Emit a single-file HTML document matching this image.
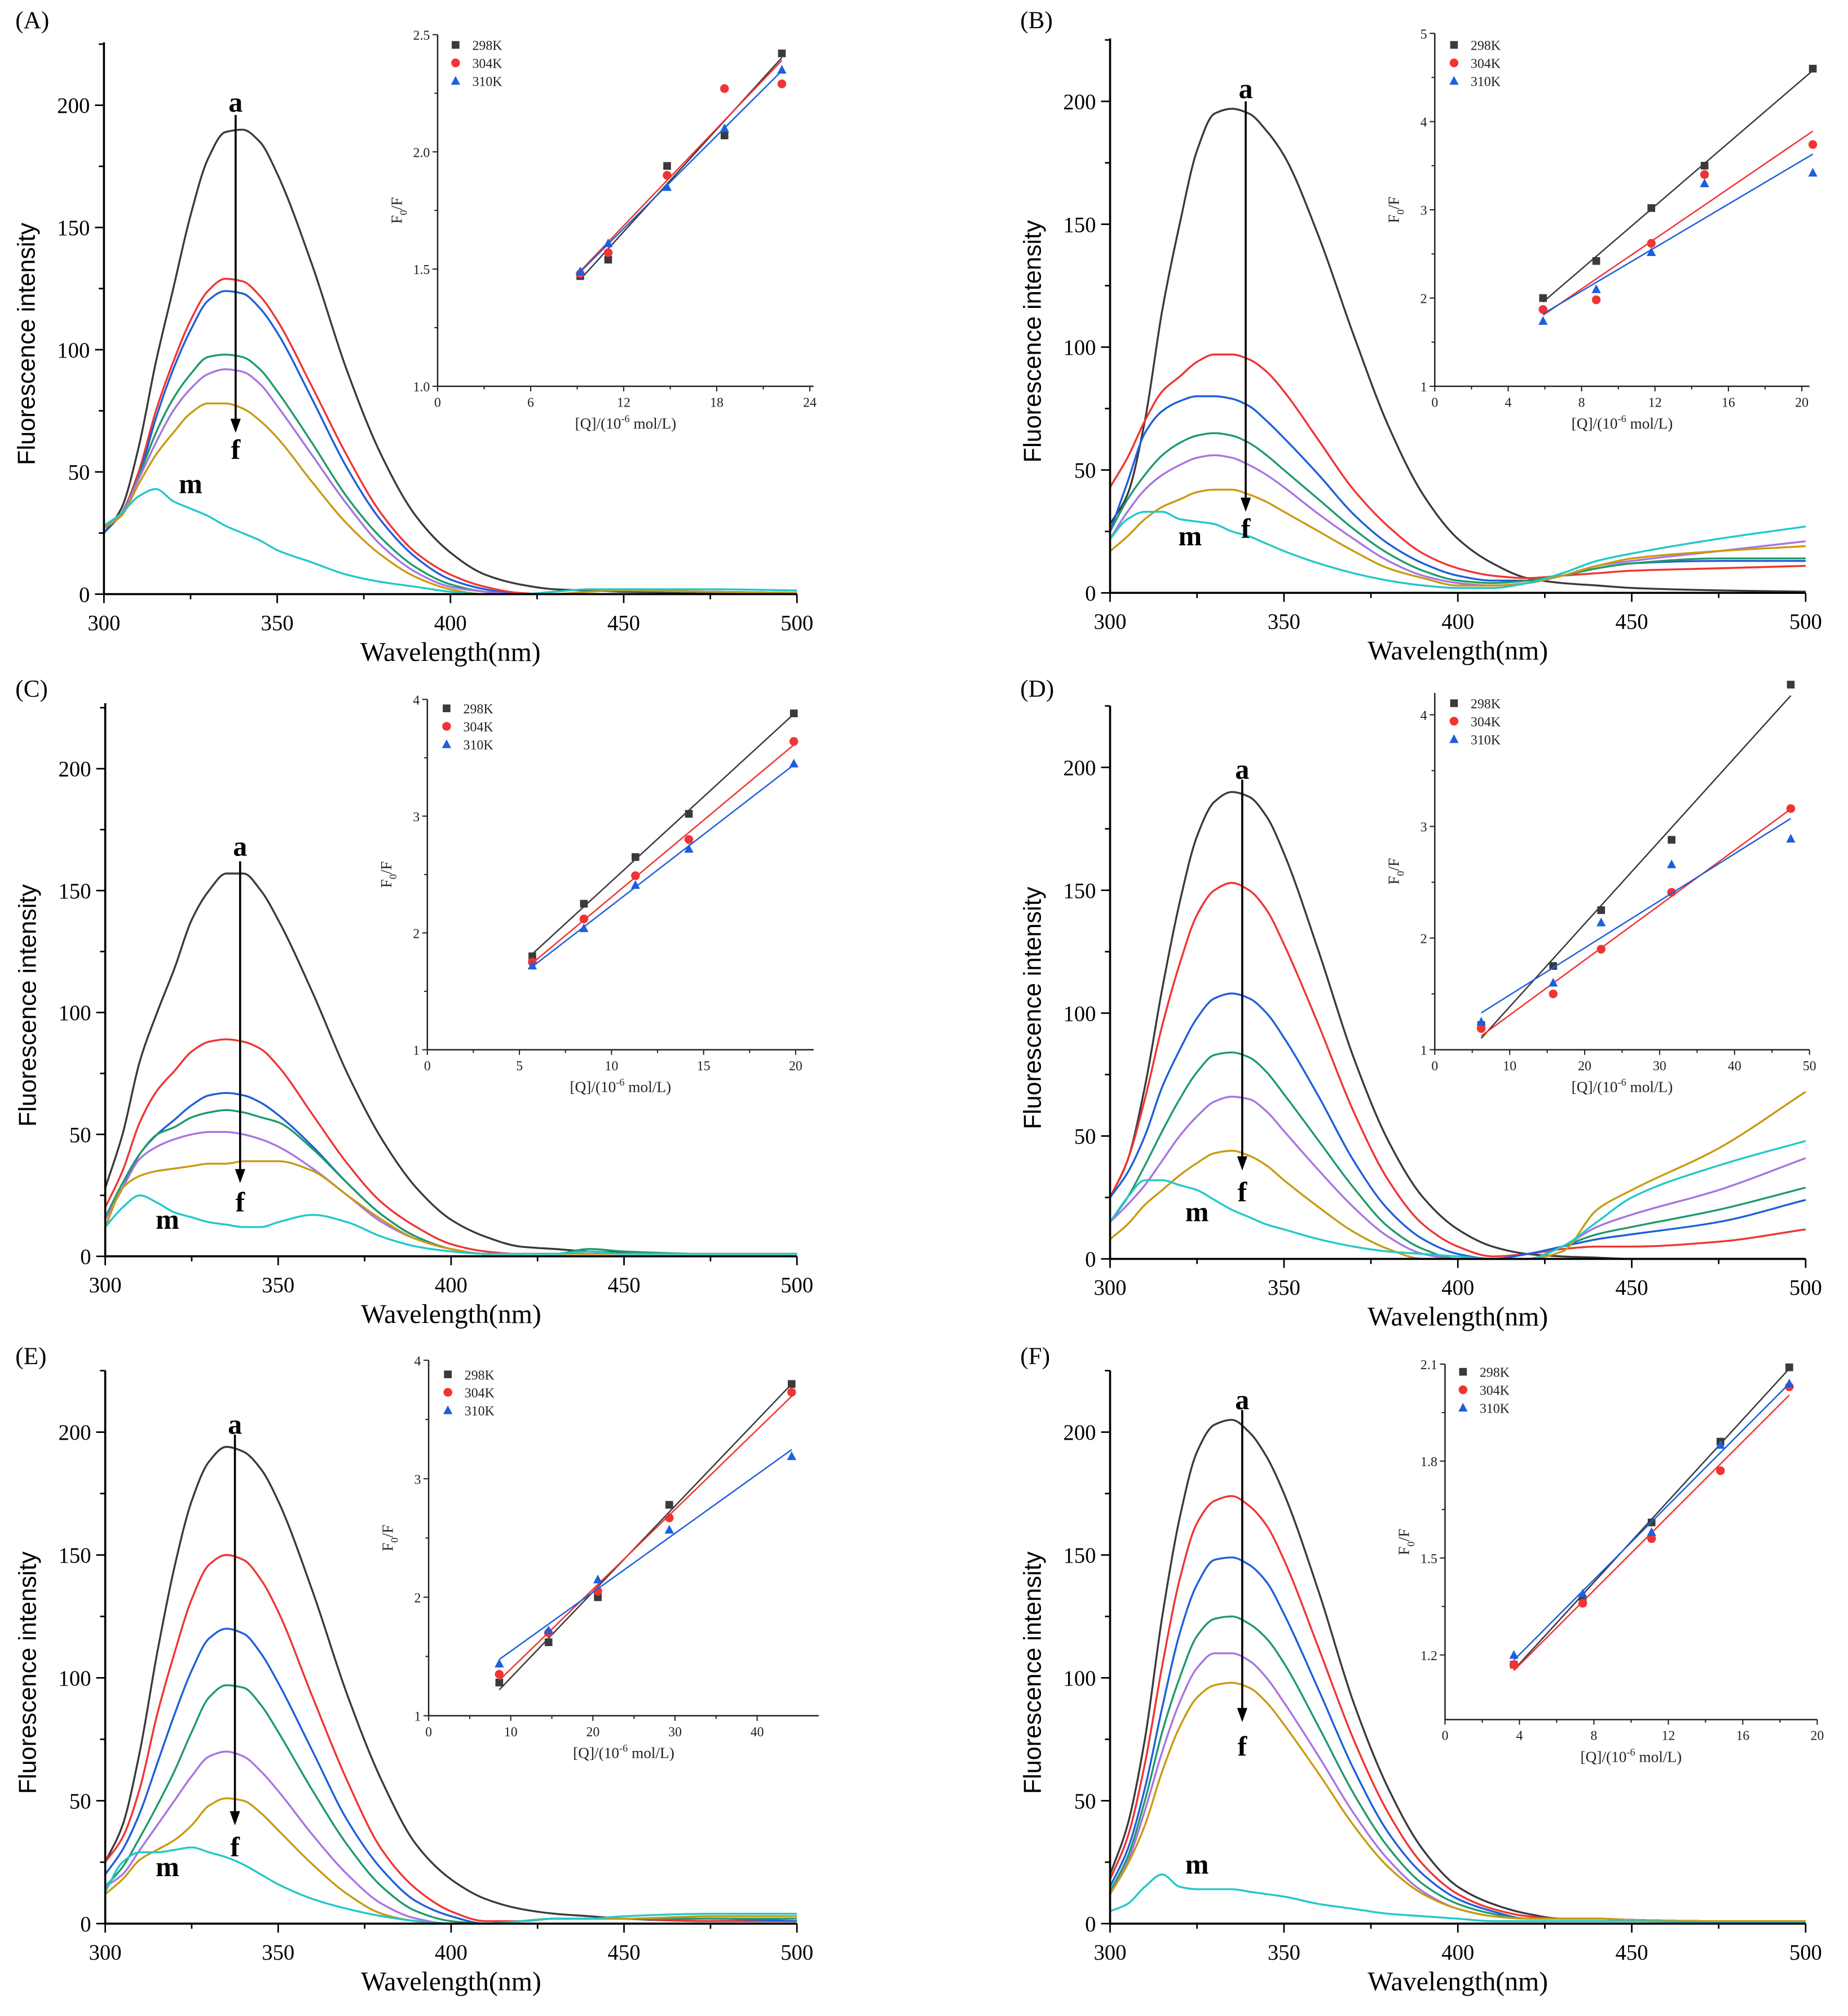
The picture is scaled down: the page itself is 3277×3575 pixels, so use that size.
<!DOCTYPE html>
<html><head><meta charset="utf-8"><style>
html,body{margin:0;padding:0;background:#fff}
svg{display:block}
</style></head><body>
<svg id="fig" width="3277" height="3575" viewBox="0 0 1440 1571" preserveAspectRatio="none" xmlns="http://www.w3.org/2000/svg"></svg>
<script>
// ---- data ----
const wl = [300,305,310,315,320,325,330,335,340,345,350,360,370,380,390,400,410,420,430,440,450,475,500];
const A_curves = [
[25,35,60,95,125,155,178,189,190,185,172,135,92,57,32,17,8,4,2,1.5,1,0.5,0],
[25,33,50,75,95,112,124,129,128,122,112,85,57,33,17,8,3,0.5,0,1,1.5,1,0.5],
[25,33,48,72,92,108,120,124,123,117,107,80,52,30,15,6,2,0,0,1,1.5,1,0.5],
[27,33,48,66,80,90,97,98,97,92,83,62,40,23,11,4,1,0,0,1,1.5,1,0.5],
[27,33,47,62,75,84,90,92,91,86,77,57,37,20,9,3,1,0,0,1,1.5,1,0.5],
[27,32,45,57,66,74,78,78,76,71,64,46,29,16,7,2,0,0,0,1,1.5,1,0.5],
[28,33,40,43,38,35,32,28,25,22,18,13,8,5,3,1,0,0,1,2,2,2,1.5]];
const B_curves = [
[28,40,70,115,150,180,195,197,195,188,178,145,105,68,40,22,12,6,4,3,2,1,0.5],
[43,55,70,82,88,94,97,97,95,90,82,62,42,27,16,10,7,6,7,8,9,10,11],
[25,45,65,74,78,80,80,79,76,70,63,48,32,20,12,7,5,5,7,10,12,13,13],
[25,38,48,56,61,64,65,64,61,56,50,38,26,16,9,5,4,5,7,10,12,14,14],
[22,33,42,48,52,55,56,55,52,48,43,32,22,13,7,4,3,4,7,11,13,17,21],
[17,23,30,35,38,41,42,42,40,37,33,25,17,10,6,3,3,4,7,11,14,17,19],
[22,30,33,33,30,29,28,25,23,20,17,12,8,5,3,2,2,4,8,13,16,22,27]];
const C_curves = [
[28,50,80,100,118,138,150,157,157,150,138,108,75,48,28,15,8,4,3,2,1.5,1,1],
[20,35,55,68,76,84,88,89,88,85,78,58,38,22,12,5,2,1,1,1,1,1,1],
[15,28,42,50,56,62,66,67,66,63,58,45,30,17,8,3,1,1,1,1,1,1,1],
[16,30,42,50,53,57,59,60,59,57,55,44,30,17,8,3,1,1,1,3,2,1,1],
[15,28,40,45,48,50,51,51,50,48,45,36,25,14,7,3,1,1,1,1,1,1,1],
[12,28,33,35,36,37,38,38,39,39,39,35,25,15,7,3,1,1,1,1,1,1,1],
[12,20,25,22,18,16,14,13,12,12,14,17,14,8,4,2,1,1,1,2,1,1,1]];
const D_curves = [
[25,40,70,110,145,172,186,190,188,180,165,125,82,48,25,12,5,2,1,0.5,0,0,0],
[25,40,65,95,120,140,150,153,150,142,128,95,60,32,14,5,1,2,4,5,5,7,12],
[25,35,50,70,85,98,106,108,106,100,90,66,40,20,8,2,0,2,5,8,10,15,24],
[15,25,38,52,65,76,83,84,82,76,67,48,29,13,4,0,0,0,5,10,13,20,29],
[15,22,30,40,50,58,64,66,65,60,52,36,21,9,2,0,0,0,5,13,18,28,41],
[8,14,22,28,34,39,43,44,42,38,32,21,11,4,0,0,0,0,3,20,28,45,68],
[15,25,32,32,30,28,24,20,17,14,12,8,5,3,2,1,0,0,5,15,25,38,48]];
const E_curves = [
[25,40,70,110,145,172,188,194,192,185,172,135,93,58,32,18,10,6,4,3,2,1,1],
[25,35,55,85,110,132,146,150,148,140,127,92,58,30,14,5,1,1,2,2,2,1,1],
[20,30,45,65,85,103,116,120,118,110,98,70,42,22,9,3,0,1,2,2,2,2,1],
[15,23,35,48,62,78,92,97,96,89,78,54,32,15,5,1,0,1,2,2,2,2,2],
[15,20,30,40,50,60,68,70,68,62,54,36,20,8,2,0,0,1,2,2,2,3,3],
[12,18,26,30,34,40,48,51,50,45,38,24,12,4,1,0,0,1,2,2,2,3,3],
[13,25,29,29,30,31,29,27,24,20,16,10,6,3,1,0,0,1,2,2,3,4,4]];
const F_curves = [
[20,40,75,125,165,192,203,205,200,190,175,135,90,55,30,15,8,4,2,2,1.5,1,1],
[18,35,65,105,140,163,172,174,170,162,148,112,75,45,24,12,6,3,2,2,1.5,1,1],
[15,30,55,88,118,138,148,149,146,139,126,95,63,37,20,10,5,2,2,2,1.5,1,1],
[13,27,50,78,100,117,124,125,122,116,106,80,53,31,16,8,4,2,2,2,1.5,1,1],
[12,25,46,70,90,104,110,110,107,100,90,68,45,26,13,6,3,2,2,2,1.5,1,1],
[12,24,40,62,80,92,97,98,96,90,81,61,40,23,12,6,3,2,2,2,1.5,1,1],
[5,8,15,20,15,14,14,14,13,12,11,8,6,4,3,2,1,1,1,1,1,0.5,0.5]];
const xTickLabels = [300,350,400,450,500];
const yTickLabels = [0,50,100,150,200];
// inset data
const A_q=[9.2,11.0,14.8,18.5,22.2], A_298=[1.47,1.54,1.94,2.07,2.42], A_304=[1.48,1.57,1.90,2.27,2.29], A_310=[1.49,1.61,1.85,2.10,2.35];
const B_q=[5.9,8.8,11.8,14.7,20.6], B_298=[2.0,2.42,3.02,3.5,4.6], B_304=[1.87,1.98,2.62,3.4,3.74], B_310=[1.74,2.1,2.52,3.3,3.42];
const C_q=[5.7,8.5,11.3,14.2,19.9], C_298=[1.8,2.25,2.65,3.02,3.88], C_304=[1.75,2.12,2.49,2.8,3.64], C_310=[1.72,2.04,2.41,2.72,3.45];
const D_q=[6.2,15.8,22.2,31.6,47.5], D_298=[1.22,1.75,2.25,2.88,4.27], D_304=[1.19,1.5,1.9,2.41,3.16], D_310=[1.25,1.6,2.14,2.66,2.89];
const E_q=[8.6,14.6,20.6,29.3,44.2], E_298=[1.28,1.62,2.0,2.78,3.8], E_304=[1.35,1.7,2.05,2.67,3.73], E_310=[1.44,1.72,2.15,2.57,3.19];
const F_q=[3.7,7.4,11.1,14.8,18.5], F_298=[1.17,1.37,1.61,1.86,2.09], F_304=[1.17,1.36,1.56,1.77,2.03], F_310=[1.20,1.39,1.58,1.85,2.04];
const A_xt=[0,6,12,18,24], A_yt=[1.0,1.5,2.0,2.5];
const B_xt=[0,4,8,12,16,20], B_yt=[1,2,3,4,5];
const C_xt=[0,5,10,15,20], C_yt=[1,2,3,4];
const D_xt=[0,10,20,30,40,50], D_yt=[1,2,3,4];
const E_xt=[0,10,20,30,40], E_yt=[1,2,3,4];
const F_xt=[0,4,8,12,16,20], F_yt=[1.2,1.5,1.8,2.1];

const colors=['#3a3a3a','#f03434','#1d5fdc','#1f9a6a','#a874e2','#c99a12','#22c8c8'];
const NS='http://www.w3.org/2000/svg';
const svg=document.getElementById('fig');
function el(tag,attrs,parent,text){const e=document.createElementNS(NS,tag);for(const k in attrs)e.setAttribute(k,attrs[k]);if(text!==undefined)e.textContent=text;(parent||svg).appendChild(e);return e;}
// monotone cubic (Fritsch-Carlson) in data space, handles non-uniform x
function monoPath(xv,yv,xs,ys){
 const n=xv.length,h=[],d=[],m=new Array(n);
 for(let i=0;i<n-1;i++){h[i]=xv[i+1]-xv[i];d[i]=(yv[i+1]-yv[i])/h[i];}
 m[0]=d[0];m[n-1]=d[n-2];
 for(let i=1;i<n-1;i++){
  if(d[i-1]*d[i]<=0)m[i]=0;
  else{const w1=2*h[i]+h[i-1],w2=h[i]+2*h[i-1];m[i]=(w1+w2)/(w1/d[i-1]+w2/d[i]);}
 }
 let p='M'+xs(xv[0]).toFixed(2)+','+ys(yv[0]).toFixed(2);
 for(let i=0;i<n-1;i++){
  const x1=xv[i]+h[i]/3,y1=yv[i]+m[i]*h[i]/3,x2=xv[i+1]-h[i]/3,y2=yv[i+1]-m[i+1]*h[i]/3;
  p+='C'+xs(x1).toFixed(2)+','+ys(y1).toFixed(2)+' '+xs(x2).toFixed(2)+','+ys(y2).toFixed(2)+' '+xs(xv[i+1]).toFixed(2)+','+ys(yv[i+1]).toFixed(2);
 }
 return p;
}

const panels=[
 {id:'A',curves:A_curves,lab:[12,22],x0:81,x1:621,y0:463,y200:82,ytop:33,arrow:[338,196,66],aV:201,fV:59,m:[325,45],
  ins:{q:A_q,s:[A_298,A_304,A_310],xt:A_xt,yt:A_yt,xmin:0,xmax:24,ymin:1,ymax:2.5,X0:341,X1:631,Y0:301,Y1:27,axX1:634,axYtop:27,leg:[355,35]}},
 {id:'B',curves:B_curves,lab:[795,22],x0:865,x1:1407,y0:462,y200:79,ytop:30,arrow:[339,200,33],aV:205,fV:26,m:[323,23],
  ins:{q:B_q,s:[B_298,B_304,B_310],xt:B_xt,yt:B_yt,xmin:0,xmax:20,ymin:1,ymax:5,X0:1118,X1:1404,Y0:301,Y1:26,axX1:1410,axYtop:26,leg:[1133,35]}},
 {id:'C',curves:C_curves,lab:[12,543],x0:82,x1:621,y0:979,y200:599,ytop:548,arrow:[339,162,30],aV:168,fV:22,m:[318,15],
  ins:{q:C_q,s:[C_298,C_304,C_310],xt:C_xt,yt:C_yt,xmin:0,xmax:20,ymin:1,ymax:4,X0:333,X1:620,Y0:818,Y1:545,axX1:634,axYtop:545,leg:[348,552]}},
 {id:'D',curves:D_curves,lab:[795,543],x0:865,x1:1407,y0:981,y200:598,ytop:550,arrow:[338,195,36],aV:199,fV:27,m:[325,19],
  ins:{q:D_q,s:[D_298,D_304,D_310],xt:D_xt,yt:D_yt,xmin:0,xmax:50,ymin:1,ymax:4,X0:1118,X1:1410,Y0:818,Y1:557,axX1:1410,axYtop:540,leg:[1133,548]}},
 {id:'E',curves:E_curves,lab:[12,1063],x0:82,x1:621,y0:1499,y200:1116,ytop:1068,arrow:[337.5,199,40],aV:203,fV:31,m:[318,23],
  ins:{q:E_q,s:[E_298,E_304,E_310],xt:E_xt,yt:E_yt,xmin:0,xmax:40,ymin:1,ymax:4,X0:334,X1:590,Y0:1337,Y1:1060,axX1:638,axYtop:1060,leg:[349,1071]}},
 {id:'F',curves:F_curves,lab:[795,1063],x0:865,x1:1407,y0:1499,y200:1116,ytop:1068,arrow:[338,209,82],aV:213,fV:72,m:[325,24],
  ins:{q:F_q,s:[F_298,F_304,F_310],xt:F_xt,yt:F_yt,xmin:0,xmax:20,ymin:1.0,ymax:2.1,X0:1126,X1:1416,Y0:1340,Y1:1063,axX1:1416,axYtop:1063,leg:[1140,1069]}}
];

function drawPanel(P){
 const g=el('g',{});
 
 
 const xs=v=>P.x0+(v-300)/200*(P.x1-P.x0);
 const ys=v=>P.y0-v/200*(P.y0-P.y200);
 const lab=el('text',{x:P.lab[0],y:P.lab[1],'font-family':'Liberation Serif, serif','font-size':19},g,'('+P.id+')');
 
 P.curves.forEach((c,ci)=>{
  const p=el('path',{d:monoPath(wl,c,xs,ys),fill:'none',stroke:colors[ci],'stroke-width':1.5},g);
  
  
 });
 const ax=el('path',{d:`M${P.x0},${P.ytop}V${P.y0}H${P.x1}`,fill:'none',stroke:'#000','stroke-width':1.6},g);
 
 for(let v=300;v<=500;v+=25){const X=xs(v);el('line',{x1:X,y1:P.y0,x2:X,y2:P.y0+(v%50?4:7),stroke:'#000','stroke-width':1.2},g);}
 xTickLabels.forEach(v=>{const t=el('text',{x:xs(v),y:P.y0+28,'text-anchor':'middle','font-family':'Liberation Serif, serif','font-size':17},g,String(v));});
 for(let v=0;v<=225;v+=25){const Y=ys(v);el('line',{x1:P.x0,y1:Y,x2:P.x0-(v%50?4:7),y2:Y,stroke:'#000','stroke-width':1.2},g);}
 yTickLabels.forEach(v=>{const t=el('text',{x:P.x0-11,y:ys(v)+6,'text-anchor':'end','font-family':'Liberation Serif, serif','font-size':17},g,String(v));});
 const xt=el('text',{x:(P.x0+P.x1)/2,y:P.y0+52,'text-anchor':'middle','font-family':'Liberation Serif, serif','font-size':21},g,'Wavelength(nm)');
 
 const ymid=(P.y0+P.ytop)/2+20;
 const yt=el('text',{x:P.x0-54,y:ymid,'text-anchor':'middle','font-family':'Liberation Sans, sans-serif','font-size':19,transform:`rotate(-90 ${P.x0-54} ${ymid})`},g,'Fluorescence intensity');
 
 const AX=xs(P.arrow[0]);
 const ar=el('line',{x1:AX,y1:ys(P.arrow[1]),x2:AX,y2:ys(P.arrow[2])-8,stroke:'#000','stroke-width':1.6},g);
 
 el('path',{d:`M${AX-4},${ys(P.arrow[2])-11}L${AX+4},${ys(P.arrow[2])-11}L${AX},${ys(P.arrow[2])}Z`,fill:'#000'},g);
 const ta=el('text',{x:AX,y:ys(P.aV)+7,'text-anchor':'middle','font-family':'Liberation Serif, serif','font-size':22,'font-weight':'bold'},g,'a');
 
 const tf=el('text',{x:AX,y:ys(P.fV)+7,'text-anchor':'middle','font-family':'Liberation Serif, serif','font-size':22,'font-weight':'bold'},g,'f');
 
 const tm=el('text',{x:xs(P.m[0]),y:ys(P.m[1])+7,'text-anchor':'middle','font-family':'Liberation Serif, serif','font-size':22,'font-weight':'bold'},g,'m');
 
 drawInset(P.ins,g);
}
function drawInset(I,parent){
 const g=el('g',{},parent);
 
 const xs=v=>I.X0+(v-I.xmin)/(I.xmax-I.xmin)*(I.X1-I.X0);
 const ys=v=>I.Y0-(v-I.ymin)/(I.ymax-I.ymin)*(I.Y0-I.Y1);
 el('path',{d:`M${I.X0},${I.axYtop}V${I.Y0}H${I.axX1}`,fill:'none',stroke:'#222','stroke-width':1.1},g);
 const xstep=I.xt[1]-I.xt[0];
 for(let k=0;k<I.xt.length*2-1;k++){const v=I.xt[0]+k*xstep/2;const X=xs(v);el('line',{x1:X,y1:I.Y0,x2:X,y2:I.Y0+(k%2?2.5:4),stroke:'#222','stroke-width':0.9},g);}
 I.xt.forEach(v=>{const t=el('text',{x:xs(v),y:I.Y0+16,'text-anchor':'middle','font-family':'Liberation Serif, serif','font-size':10.5,fill:'#222'},g,String(v));});
 const ystep=I.yt[1]-I.yt[0];
 for(let k=0;k<I.yt.length*2-1;k++){const v=I.yt[0]+k*ystep/2;const Y=ys(v);el('line',{x1:I.X0,y1:Y,x2:I.X0-(k%2?2.5:4),y2:Y,stroke:'#222','stroke-width':0.9},g);}
 const dec=I.yt.some(v=>v%1!==0);
 I.yt.forEach(v=>{const t=el('text',{x:I.X0-6,y:ys(v)+4,'text-anchor':'end','font-family':'Liberation Serif, serif','font-size':10.5,fill:'#222'},g,dec?v.toFixed(1):String(v));});
 const xtl=el('text',{x:(I.X0+I.axX1)/2,y:I.Y0+33,'text-anchor':'middle','font-family':'Liberation Serif, serif','font-size':12,fill:'#222'},g);
 
 el('tspan',{},xtl,'[Q]/(10');el('tspan',{dy:-5,'font-size':8},xtl,'-6');el('tspan',{dy:5},xtl,' mol/L)');
 const ym=(I.Y0+I.axYtop)/2, yx=I.X0-28;
 const ytl=el('text',{x:yx,y:ym,'text-anchor':'middle','font-family':'Liberation Serif, serif','font-size':12,fill:'#222',transform:`rotate(-90 ${yx} ${ym})`},g);
 
 el('tspan',{},ytl,'F');el('tspan',{dy:4,'font-size':8},ytl,'0');el('tspan',{dy:-4},ytl,'/F');
 const sc=['#3a3a3a','#f03434','#1d5fdc'];
 I.s.forEach((ser,si)=>{
  const n=ser.length;let sx=0,sy=0,sxx=0,sxy=0;
  for(let i=0;i<n;i++){sx+=I.q[i];sy+=ser[i];sxx+=I.q[i]*I.q[i];sxy+=I.q[i]*ser[i];}
  const b=(n*sxy-sx*sy)/(n*sxx-sx*sx),a=(sy-b*sx)/n;
  const q0=I.q[0],q1=I.q[n-1];
  const fl=el('line',{x1:xs(q0),y1:ys(a+b*q0),x2:xs(q1),y2:ys(a+b*q1),stroke:sc[si],'stroke-width':1.1},g);
  
  ser.forEach((v,i)=>{const X=xs(I.q[i]),Y=ys(v);let m;
   if(si===0)m=el('rect',{x:X-3,y:Y-3,width:6,height:6,fill:sc[0]},g);
   else if(si===1)m=el('circle',{cx:X,cy:Y,r:3.4,fill:sc[1]},g);
   else m=el('path',{d:`M${X-3.6},${Y+3}L${X+3.6},${Y+3}L${X},${Y-3.8}Z`,fill:sc[2]},g);
   });
 });
 ['298K','304K','310K'].forEach((t,si)=>{
  const lx=I.leg[0],ly=I.leg[1]+si*14;
  if(si===0)el('rect',{x:lx-3,y:ly-3,width:6,height:6,fill:sc[0]},g);
  else if(si===1)el('circle',{cx:lx,cy:ly,r:3.4,fill:sc[1]},g);
  else el('path',{d:`M${lx-3.6},${ly+3}L${lx+3.6},${ly+3}L${lx},${ly-3.8}Z`,fill:sc[2]},g);
  const lt=el('text',{x:lx+13,y:ly+4,'font-family':'Liberation Serif, serif','font-size':10.5,fill:'#222'},g,t);
  
 });
}
panels.forEach(drawPanel);
</script>
</body></html>
